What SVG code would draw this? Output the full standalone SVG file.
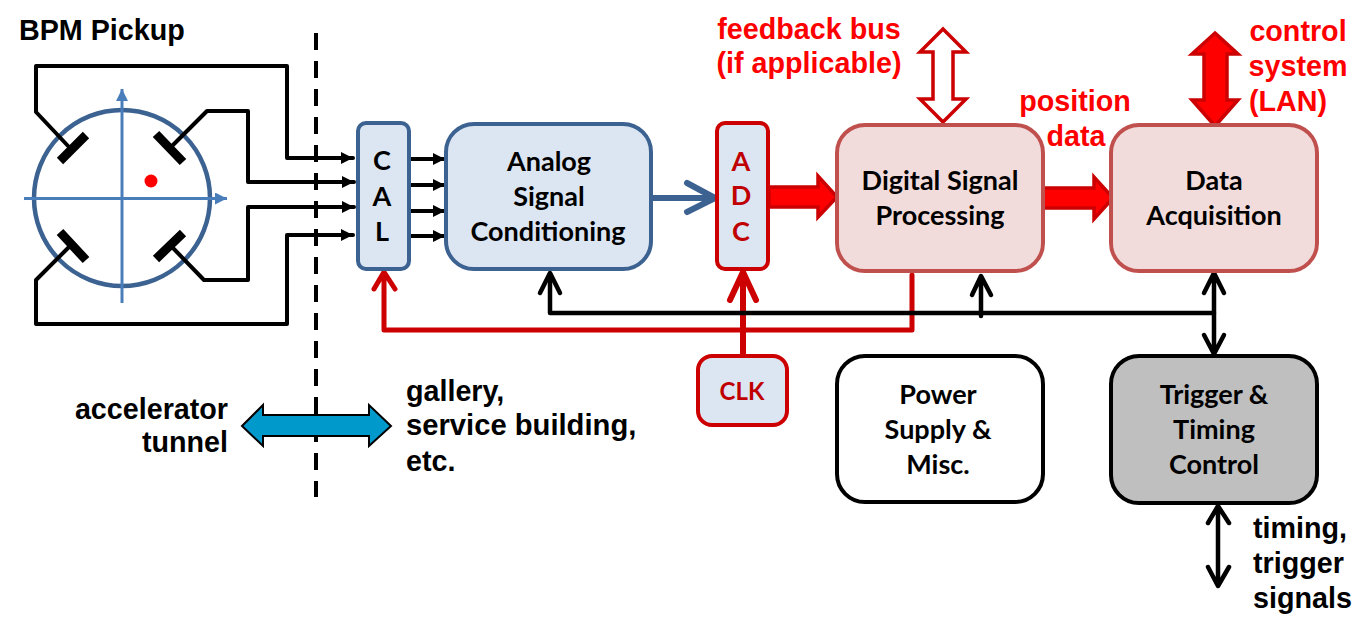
<svg xmlns="http://www.w3.org/2000/svg" width="1370" height="631" viewBox="0 0 1370 631">
<style>
text{font-family:"Lato","Liberation Sans",sans-serif;font-weight:700;font-size:27px;fill:#000;text-anchor:middle}
.a{font-family:"Liberation Sans",Arial,sans-serif;font-size:28.700px}
.r{fill:#f00}
.s{text-anchor:start}
.e{text-anchor:end}
.d{fill:#c00000}
.box{stroke-width:4}
.blue{fill:#dce6f2;stroke:#3c6291}
.rose{fill:#f2dcdb;stroke:#c0504d}
.adc{fill:#dce6f2;stroke:#cc0000}
.w{fill:none;stroke:#000;stroke-width:4;stroke-linejoin:round;stroke-linecap:round}
.plate{fill:none;stroke:#000;stroke-width:9}
.ax{fill:none;stroke:#4a7ebb;stroke-width:3}
.rl{fill:none;stroke:#cc0000;stroke-width:5;stroke-linejoin:round;stroke-linecap:round}
.bl{fill:none;stroke:#000;stroke-width:4.500;stroke-linejoin:round;stroke-linecap:round}
</style>
<defs>
<marker id="tip" markerUnits="userSpaceOnUse" markerWidth="14" markerHeight="14" refX="12" refY="6" orient="auto"><path d="M0 0L12 6L0 12Z" fill="#000"/></marker>
<marker id="axtip" markerUnits="userSpaceOnUse" markerWidth="14" markerHeight="14" refX="12" refY="6" orient="auto"><path d="M0 0L12 6L0 12Z" fill="#4a7ebb"/></marker>
</defs>

<g id="pickup">
<circle cx="122" cy="198" r="88" fill="#fff" stroke="#3c6291" stroke-width="4.500"/>
<path class="ax" d="M122 303V89" marker-end="url(#axtip)"/>
<path class="ax" d="M24 198.500H227" marker-end="url(#axtip)"/>
<circle cx="151" cy="181" r="6.500" fill="#f00"/>
<path class="plate" d="M60 161L86 135M156 134L183 162M156 259L183 233M60 232L86 260"/>
<text x="19" y="40" class="a s">BPM Pickup</text>
</g>

<g id="connectors">
<path d="M316 33V497" fill="none" stroke="#000" stroke-width="4" stroke-dasharray="17 11"/>
<path class="w" d="M69 147L36 112V66H287V158H353" marker-end="url(#tip)"/>
<path class="w" d="M172 146L207 111H248V182H354" marker-end="url(#tip)"/>
<path class="w" d="M172 247L204 280H248V207H354" marker-end="url(#tip)"/>
<path class="w" d="M69 247L36 280V324H287V235H353" marker-end="url(#tip)"/>
<path class="w" d="M409 159H445" marker-end="url(#tip)"/>
<path class="w" d="M409 185H445" marker-end="url(#tip)"/>
<path class="w" d="M409 211H445" marker-end="url(#tip)"/>
<path class="w" d="M409 236H445" marker-end="url(#tip)"/>

<path d="M652 198H713M687 183L715 198L687 212" fill="none" stroke="#3c6291" stroke-width="6" stroke-linejoin="round" stroke-linecap="round"/>
<path d="M769 187H818V176L837 197L818 217V207H769Z" fill="#f00" stroke="#cc0000" stroke-width="3.500"/>
<path d="M1043 188H1094V177L1113 198L1094 219V208H1043Z" fill="#f00" stroke="#cc0000" stroke-width="3.500"/>
<path d="M943 29L966 52H953V99H966L943 122L920 99H933V52H920Z" fill="#fff" stroke="#cc0000" stroke-width="3.500"/>
<path d="M1215 33L1238 54H1227V100H1238L1215 126L1192 100H1204V54H1192Z" fill="#f00" stroke="#cc0000" stroke-width="3.500"/>

<path class="rl" d="M912 275V330H384V274M374 289L384 272L395 289"/>
<path class="rl" style="stroke-width:6" d="M743 356V274M730 300L743 272L756 300"/>
<path class="bl" d="M550 274V313H1214"/>
<path class="bl" d="M540 293L550 273L560 293"/>
<path class="bl" d="M981 316V277M972 295L981 276L991 295"/>
<path class="bl" d="M1214 274V354M1204 293L1214 273L1224 293M1204 335L1214 354L1224 335"/>
<path class="bl" d="M1218 507V585M1208 523L1218 506L1229 523M1208 567L1218 586L1229 567"/>
<path d="M242 426L263 405V415H369V405L391 426L369 446V436H263V446Z" fill="#0099cc" stroke="#000" stroke-width="2"/>
</g>

<g id="cal"><rect class="box blue" x="358" y="123" width="51" height="146" rx="8"/>
<text x="382" y="170">C</text><text x="382" y="206">A</text><text x="382" y="241">L</text></g>
<g id="analog"><rect class="box blue" x="446" y="124" width="205" height="145" rx="28"/>
<text x="549" y="171">Analog</text><text x="549" y="206">Signal</text><text x="548" y="241">Conditioning</text></g>
<g id="adc"><rect class="box adc" x="717" y="123" width="51" height="146" rx="8"/>
<text x="741" y="171" class="d">A</text><text x="741" y="205" class="d">D</text><text x="741" y="241" class="d">C</text></g>
<g id="dsp"><rect class="box rose" x="837" y="125" width="206" height="146" rx="28"/>
<text x="940" y="190">Digital Signal</text><text x="940" y="225">Processing</text></g>
<g id="daq"><rect class="box rose" x="1111" y="125" width="206" height="146" rx="28"/>
<text x="1214" y="190">Data</text><text x="1214" y="225">Acquisition</text></g>
<g id="clk"><rect class="box adc" x="698" y="356" width="89" height="69" rx="14"/>
<text x="742" y="400" class="d" style="font-size:24px">CLK</text></g>
<g id="power"><rect class="box" fill="#fff" stroke="#000" x="837" y="356" width="206" height="146" rx="28"/>
<text x="938" y="404">Power</text><text x="938" y="439">Supply &amp;</text><text x="938" y="474">Misc.</text></g>
<g id="trigger"><rect class="box" fill="#bfbfbf" stroke="#000" x="1111" y="356" width="206" height="147" rx="28"/>
<text x="1214" y="404">Trigger &amp;</text><text x="1214" y="439">Timing</text><text x="1214" y="474">Control</text></g>

<g id="labels">
<text x="809" y="39" class="a r">feedback bus</text>
<text x="809" y="73" class="a r">(if applicable)</text>
<text x="1298" y="41" class="a r">control</text>
<text x="1298" y="76" class="a r">system</text>
<text x="1288" y="111" class="a r">(LAN)</text>
<text x="1075" y="111" class="a r">position</text>
<text x="1076" y="146" class="a r">data</text>
<text x="228" y="419" class="a e">accelerator</text>
<text x="228" y="452" class="a e">tunnel</text>
<text x="406" y="401" class="a s">gallery,</text>
<text x="406" y="435" class="a s" style="font-size:29.200px">service building,</text>
<text x="406" y="471" class="a s">etc.</text>
<text x="1253" y="538" class="a s">timing,</text>
<text x="1253" y="573" class="a s">trigger</text>
<text x="1253" y="608" class="a s">signals</text>
</g>
</svg>
